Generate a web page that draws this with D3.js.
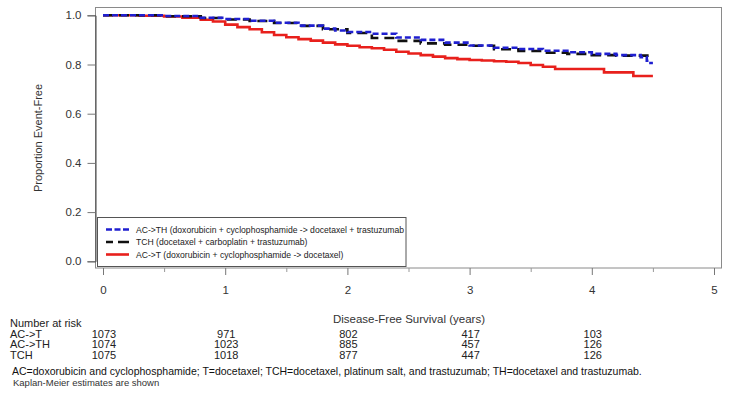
<!DOCTYPE html>
<html>
<head>
<meta charset="utf-8">
<script src="https://cdn.jsdelivr.net/npm/d3@7"></script>
<style>
html,body{margin:0;padding:0;background:#fff;}
svg{display:block;}
</style>
</head>
<body>
<svg id="chart" width="729" height="394"></svg>
<script>
// ---- Data ----
const seriesNames = [
  "AC->TH (doxorubicin + cyclophosphamide -> docetaxel + trastuzumab",
  "TCH (docetaxel + carboplatin + trastuzumab)",
  "AC->T (doxorubicin + cyclophosphamide -> docetaxel)"
];
// AC->T (red, solid)
const actTime = [0, 0.3, 0.5, 0.65, 0.8, 0.9, 1.0, 1.1, 1.2, 1.3, 1.4, 1.5, 1.6, 1.7, 1.8, 1.9, 2.0, 2.1, 2.2, 2.3, 2.4, 2.5, 2.6, 2.7, 2.8, 2.9, 3.0, 3.1, 3.2, 3.3, 3.4, 3.5, 3.6, 3.7, 4.1, 4.34, 4.5];
const actSurv = [1.0, 0.998, 0.995, 0.99, 0.982, 0.975, 0.962, 0.952, 0.943, 0.931, 0.920, 0.911, 0.903, 0.897, 0.889, 0.882, 0.876, 0.870, 0.866, 0.860, 0.852, 0.845, 0.838, 0.832, 0.826, 0.822, 0.818, 0.816, 0.813, 0.811, 0.806, 0.798, 0.791, 0.782, 0.768, 0.753, 0.753];
// AC->TH (blue, short dashes)
const acthTime = [0, 0.5, 0.8, 1.0, 1.2, 1.4, 1.6, 1.8, 1.9, 2.0, 2.2, 2.4, 2.6, 2.8, 3.0, 3.2, 3.4, 3.6, 3.8, 4.0, 4.2, 4.4, 4.45, 4.48, 4.5];
const acthSurv = [1.0, 0.997, 0.990, 0.985, 0.978, 0.970, 0.958, 0.946, 0.938, 0.932, 0.925, 0.910, 0.900, 0.889, 0.877, 0.868, 0.863, 0.856, 0.850, 0.843, 0.838, 0.830, 0.815, 0.806, 0.806];
// TCH (black, long dashes)
const tchTime = [0, 0.5, 0.8, 1.0, 1.2, 1.4, 1.6, 1.8, 2.0, 2.2, 2.4, 2.6, 2.8, 3.0, 3.2, 3.4, 3.6, 3.8, 4.0, 4.2, 4.5];
const tchSurv = [1.0, 0.996, 0.989, 0.983, 0.977, 0.969, 0.957, 0.943, 0.928, 0.908, 0.896, 0.886, 0.880, 0.876, 0.862, 0.855, 0.848, 0.843, 0.838, 0.836, 0.836];

const xTicks = [0, 1, 2, 3, 4, 5];
const xMinorTicks = [0.5, 1.5, 2.5, 3.5, 4.5];
const yTicks = [0, 0.2, 0.4, 0.6, 0.8, 1.0];

const riskTimes = [0, 1, 2, 3, 4];
const riskLabels = ["AC->T", "AC->TH", "TCH"];
const riskACT = [1073, 971, 802, 417, 103];
const riskACTH = [1074, 1023, 885, 457, 126];
const riskTCH = [1075, 1018, 877, 447, 126];

const xTitle = "Disease-Free Survival (years)";
const yTitle = "Proportion Event-Free";
const footnote1 = "AC=doxorubicin and cyclophosphamide; T=docetaxel; TCH=docetaxel, platinum salt, and trastuzumab; TH=docetaxel and trastuzumab.";
const footnote2 = "Kaplan-Meier estimates are shown";

// ---- Drawing ----
const svg = d3.select("#chart");
const font = "'Liberation Sans', Arial, sans-serif";
const x = d3.scaleLinear().domain([0, 5]).range([103, 714]);
const y = d3.scaleLinear().domain([0, 1]).range([261.3, 15.3]);

const frame = {l: 95.5, t: 7.5, r: 721.5, b: 268};

// plot frame
svg.append("rect")
  .attr("x", frame.l).attr("y", frame.t)
  .attr("width", frame.r - frame.l).attr("height", frame.b - frame.t)
  .attr("fill", "#fff").attr("stroke", "#8a8a8a").attr("stroke-width", 1);

// y axis
const yAxis = svg.append("g")
  .attr("transform", `translate(${frame.l},0)`)
  .call(d3.axisLeft(y).tickValues(yTicks).tickFormat(d3.format(".1f")).tickSize(8).tickPadding(6));
yAxis.select(".domain").attr("stroke", "#444");
yAxis.selectAll(".tick line").attr("stroke", "#777");
yAxis.selectAll("text").attr("font-family", font).attr("font-size", 11.5).attr("fill", "#333");

// x axis
const xAxis = svg.append("g")
  .attr("transform", `translate(0,${frame.b})`)
  .call(d3.axisBottom(x).tickValues(xTicks).tickFormat(d3.format("d")).tickSize(7).tickPadding(11));
xAxis.select(".domain").remove();
xAxis.selectAll(".tick line").attr("stroke", "#777");
xAxis.selectAll("text").attr("font-family", font).attr("font-size", 11.5).attr("fill", "#333");
const xMinor = svg.append("g")
  .attr("transform", `translate(0,${frame.b})`)
  .call(d3.axisBottom(x).tickValues(xMinorTicks).tickSize(4).tickFormat(""));
xMinor.select(".domain").remove();
xMinor.selectAll(".tick line").attr("stroke", "#999");

// axis titles
svg.append("text")
  .attr("transform", `translate(42,138) rotate(-90)`)
  .attr("text-anchor", "middle")
  .attr("font-family", font).attr("font-size", 11).attr("fill", "#333")
  .text(yTitle);
svg.append("text")
  .attr("x", 409).attr("y", 323)
  .attr("text-anchor", "middle")
  .attr("font-family", font).attr("font-size", 11.5).attr("fill", "#333")
  .text(xTitle);

// KM curves
const line = d3.line().x(d => x(d[0])).y(d => y(d[1])).curve(d3.curveStepAfter);
const zip = (t, s) => t.map((v, i) => [v, s[i]]);
const curves = [
  {data: zip(actTime, actSurv), color: "#e8201c", dash: null},
  {data: zip(tchTime, tchSurv), color: "#111111", dash: "10,6"},
  {data: zip(acthTime, acthSurv), color: "#1f1fd0", dash: "6,3"}
];
curves.forEach(c => {
  svg.append("path")
    .attr("d", line(c.data))
    .attr("fill", "none")
    .attr("stroke", c.color)
    .attr("stroke-width", 2.6)
    .attr("stroke-dasharray", c.dash);
});

// legend
svg.append("rect")
  .attr("x", 97.5).attr("y", 217.5).attr("width", 308.5).attr("height", 49)
  .attr("fill", "#fff").attr("stroke", "#555").attr("stroke-width", 1);
const legendItems = [
  {name: seriesNames[0], color: "#1f1fd0", dash: "6,2.5"},
  {name: seriesNames[1], color: "#111111", dash: "7,5,11"},
  {name: seriesNames[2], color: "#e8201c", dash: null}
];
legendItems.forEach((it, i) => {
  const cy = 229.5 + i * 12.5;
  svg.append("line")
    .attr("x1", 106).attr("x2", 129).attr("y1", cy).attr("y2", cy)
    .attr("stroke", it.color).attr("stroke-width", 2.6)
    .attr("stroke-dasharray", it.dash);
  svg.append("text")
    .attr("x", 136).attr("y", cy + 3.3)
    .attr("font-family", font)
    .attr("font-size", 8.6).attr("fill", "#222")
    .text(it.name);
});

// number at risk table
const tfont = font;
svg.append("text").attr("x", 10).attr("y", 327)
  .attr("font-family", tfont).attr("font-size", 11).attr("fill", "#222")
  .text("Number at risk");
const riskRows = [riskACT, riskACTH, riskTCH];
riskRows.forEach((row, i) => {
  const by = 337.5 + i * 10.5;
  svg.append("text").attr("x", 10).attr("y", by)
    .attr("font-family", tfont).attr("font-size", 11).attr("fill", "#222")
    .text(riskLabels[i]);
  row.forEach((v, j) => {
    svg.append("text").attr("x", x(riskTimes[j]) + 1).attr("y", by)
      .attr("text-anchor", "middle")
      .attr("font-family", tfont).attr("font-size", 11).attr("fill", "#222")
      .text(v);
  });
});

// footnotes
svg.append("text").attr("x", 12).attr("y", 375)
  .attr("font-family", tfont).attr("font-size", 10.5).attr("fill", "#111")
  .text(footnote1);
svg.append("text").attr("x", 13).attr("y", 386)
  .attr("font-family", tfont).attr("font-size", 9.5).attr("fill", "#333")
  .text(footnote2);
</script>
</body>
</html>
